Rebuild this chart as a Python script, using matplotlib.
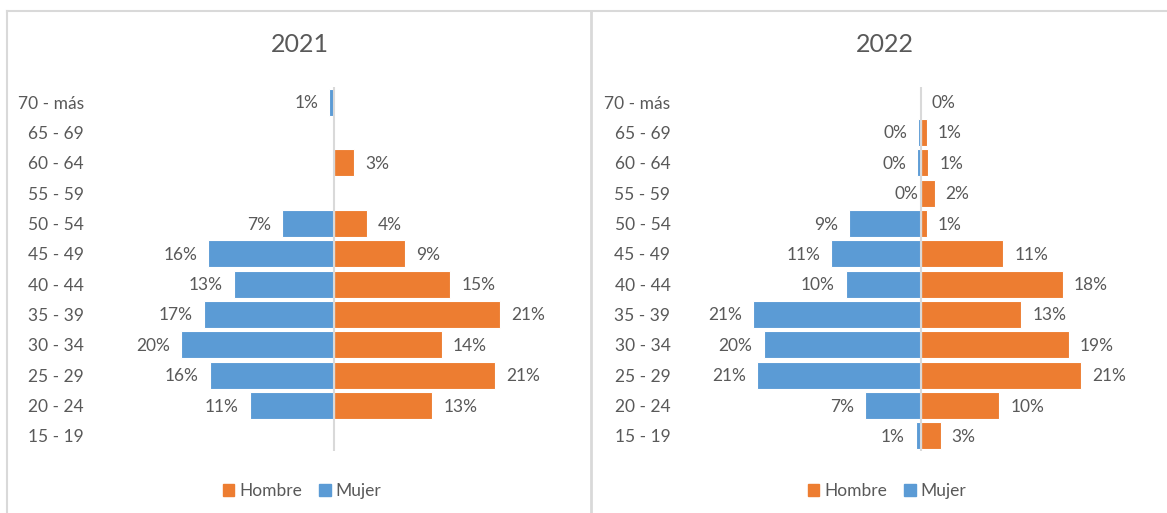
"""
plot.py

Pirámide de edades por sexo, 2021 y 2022, en dos paneles.
"""

import numpy as np
import matplotlib

matplotlib.use("Agg")
import matplotlib.pyplot as plt
from matplotlib.patches import Patch

plt.rcParams["font.family"] = ["Lato", "DejaVu Sans"]

# Datos (fracciones), de abajo hacia arriba
ages = ["15 - 19", "20 - 24", "25 - 29", "30 - 34", "35 - 39", "40 - 44",
        "45 - 49", "50 - 54", "55 - 59", "60 - 64", "65 - 69", "70 - más"]

nan = np.nan
hombre_2021 = [nan, 0.126, 0.206, 0.138, 0.213, 0.149, 0.091, 0.042, nan, 0.026, nan, nan]
mujer_2021 = [nan, 0.108, 0.159, 0.196, 0.167, 0.128, 0.161, 0.067, nan, nan, nan, 0.006]

hombre_2022 = [0.026, 0.101, 0.206, 0.190, 0.129, 0.182, 0.106, 0.008, 0.018, 0.010, 0.008, 0.0]
mujer_2022 = [0.006, 0.071, 0.209, 0.201, 0.214, 0.096, 0.114, 0.091, 0.0, 0.004, 0.003, nan]

years = ["2021", "2022"]

BLUE = "#5B9BD5"
ORANGE = "#ED7D31"
TEXT = "#595959"
GRID = "#D9D9D9"

W, H = 1167, 513


def fx(px):
    return px / W


def fy(py):
    # pixel y measured from top
    return 1 - py / H


def draw_panel(fig, left_px, center_px, title_x, hombre, mujer, title):
    xmax = 0.306
    half = center_px - left_px
    ax = fig.add_axes([fx(left_px), fy(451), fx(2 * half), (451 - 87) / H])
    y = np.arange(len(ages))
    h = np.array(hombre, dtype=float)
    m = np.array(mujer, dtype=float)

    ax.barh(y, np.nan_to_num(h), height=0.9, color=ORANGE,
            edgecolor="white", linewidth=0.8, zorder=2)
    ax.barh(y, -np.nan_to_num(m), height=0.9, color=BLUE,
            edgecolor="white", linewidth=0.8, zorder=2)
    ax.axvline(0, color=GRID, lw=1.5, zorder=3)

    for yi, v in zip(y, h):
        if np.isnan(v):
            continue
        ax.annotate(f"{v:.0%}", (v, yi), xytext=(11, -1), textcoords="offset pixels",
                    ha="left", va="center", fontsize=12.5, color=TEXT)
    for yi, v in zip(y, m):
        if np.isnan(v):
            continue
        off = -11 if v > 0 else -2
        ax.annotate(f"{v:.0%}", (-v, yi), xytext=(off, -1), textcoords="offset pixels",
                    ha="right", va="center", fontsize=12.5, color=TEXT)

    ax.set_xlim(-xmax, xmax)
    ax.set_ylim(-0.5, len(ages) - 0.5)
    ax.set_xticks([])
    ax.set_yticks(y)
    ax.set_yticklabels(ages, fontsize=12.5, color=TEXT)
    ax.tick_params(axis="y", length=0, pad=8)
    for s in ax.spines.values():
        s.set_visible(False)
    ax.patch.set_alpha(0)

    fig.text(fx(title_x), fy(44.5), title, ha="center", va="center",
             fontsize=18, color=TEXT)

    handles = [Patch(color=ORANGE, label="Hombre"), Patch(color=BLUE, label="Mujer")]
    fig.legend(handles=handles, loc="center", bbox_to_anchor=(fx(title_x + 2), fy(491)),
               ncol=2, frameon=False, fontsize=12.5, labelcolor=TEXT,
               handlelength=0.65, handleheight=0.65, handletextpad=0.3,
               columnspacing=1.0)
    return ax


def main():
    fig = plt.figure(figsize=(W / 100, H / 100), dpi=100)

    # marcos de los dos gráficos
    fig.add_artist(plt.Line2D([fx(6.7), 1.0], [fy(11), fy(11)], color=GRID, lw=1.5))
    fig.add_artist(plt.Line2D([fx(6.7), fx(6.7)], [fy(11), 0], color=GRID, lw=1.5))
    fig.add_artist(plt.Line2D([fx(591), fx(591)], [fy(11), 0], color=GRID, lw=2))

    draw_panel(fig, 95, 334, 300, hombre_2021, mujer_2021, years[0])
    draw_panel(fig, 681.5, 920.5, 885, hombre_2022, mujer_2022, years[1])

    fig.savefig("out.png", dpi=100, facecolor="white")


if __name__ == "__main__":
    main()
